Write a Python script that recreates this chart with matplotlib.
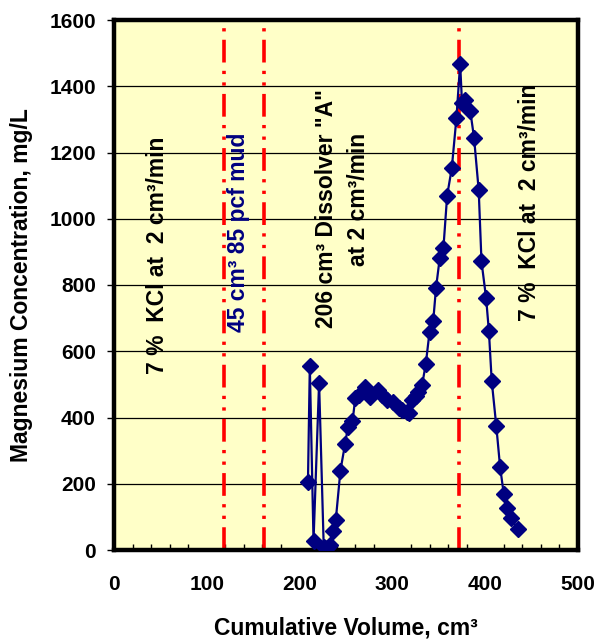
import matplotlib
matplotlib.use("Agg")
import matplotlib.pyplot as plt
from matplotlib.ticker import MultipleLocator

# ==========================
# Data
# ==========================
volume = [209, 211, 215, 221, 226, 230, 233, 236, 239, 244, 249, 252, 257, 260,
          264, 271, 276, 284, 289, 294, 301, 307, 310, 316, 318, 321, 325, 328,
          332, 336, 340, 344, 347, 351, 355, 359, 364, 369, 373, 375, 378, 384,
          388, 393, 396, 401, 404, 407, 412, 416, 420, 424, 428, 435]
magnesium = [204, 556, 27, 505, 10, 5, 15, 58, 91, 240, 320, 370, 388, 458,
             468, 493, 463, 483, 468, 453, 448, 428, 423, 418, 413, 453, 465, 478,
             498, 562, 658, 692, 791, 881, 913, 1070, 1153, 1304, 1468, 1350, 1360, 1324,
             1244, 1086, 871, 760, 660, 511, 373, 252, 169, 126, 96, 62]

# stage boundaries (cumulative volume, cm3)
boundaries = [118, 162, 372]

# stage notes: (text, x, y, colour)
notes = [
    ("7 %  KCl at  2 cm³/min", 47, 890, "black"),
    ("45 cm³ 85 pcf mud", 134, 960, "#000080"),
    ("206 cm³ Dissolver \"A\"", 229, 1030, "black"),
    ("at 2 cm³/min", 263, 1057, "black"),
    ("7 %  KCl at  2 cm³/min", 448, 1051, "black"),
]

plt.rcParams["font.family"] = ["Liberation Sans", "DejaVu Sans"]
plt.rcParams["font.weight"] = "bold"

fig = plt.figure(figsize=(5.97, 6.42), dpi=100)
ax = fig.add_axes([114 / 597, 92 / 642, 464 / 597, 530 / 642])
ax.set_facecolor("#FFFFC8")

ax.set_xlim(0, 500)
ax.set_ylim(0, 1600)
ax.yaxis.set_major_locator(MultipleLocator(200))
ax.xaxis.set_major_locator(MultipleLocator(100))
ax.xaxis.set_minor_locator(MultipleLocator(20))
ax.grid(axis="y", color="black", linewidth=0.9, zorder=1)

for b in boundaries:
    ax.axvline(b, color="red", linewidth=2.6,
               dashes=(6.3, 2.3, 0.9, 2.3, 0.9, 2.3), zorder=2)

ax.plot(volume, magnesium, color="#000080", linewidth=1.6, marker="D",
        markersize=8, markerfacecolor="#000080", markeredgecolor="#000080", zorder=3)

for text, x, y, c in notes:
    ax.text(x, y, text, rotation=90, ha="center", va="center",
            fontsize=16.5, fontweight="bold", color=c, zorder=4)

for s in ax.spines.values():
    s.set_linewidth(3.2)
    s.set_color("black")

ax.tick_params(axis="y", direction="out", length=5, width=1, pad=8, labelsize=15)
ax.tick_params(axis="x", which="both", direction="in", length=4, width=1,
               pad=18, labelsize=15)
ax.tick_params(axis="x", which="major", length=0)

ax.set_xlabel("Cumulative Volume, cm³", fontsize=16.5, fontweight="bold", labelpad=16)
ax.set_ylabel("Magnesium Concentration, mg/L", fontsize=16.5, fontweight="bold", labelpad=12)

fig.savefig("out.png", dpi=100)
